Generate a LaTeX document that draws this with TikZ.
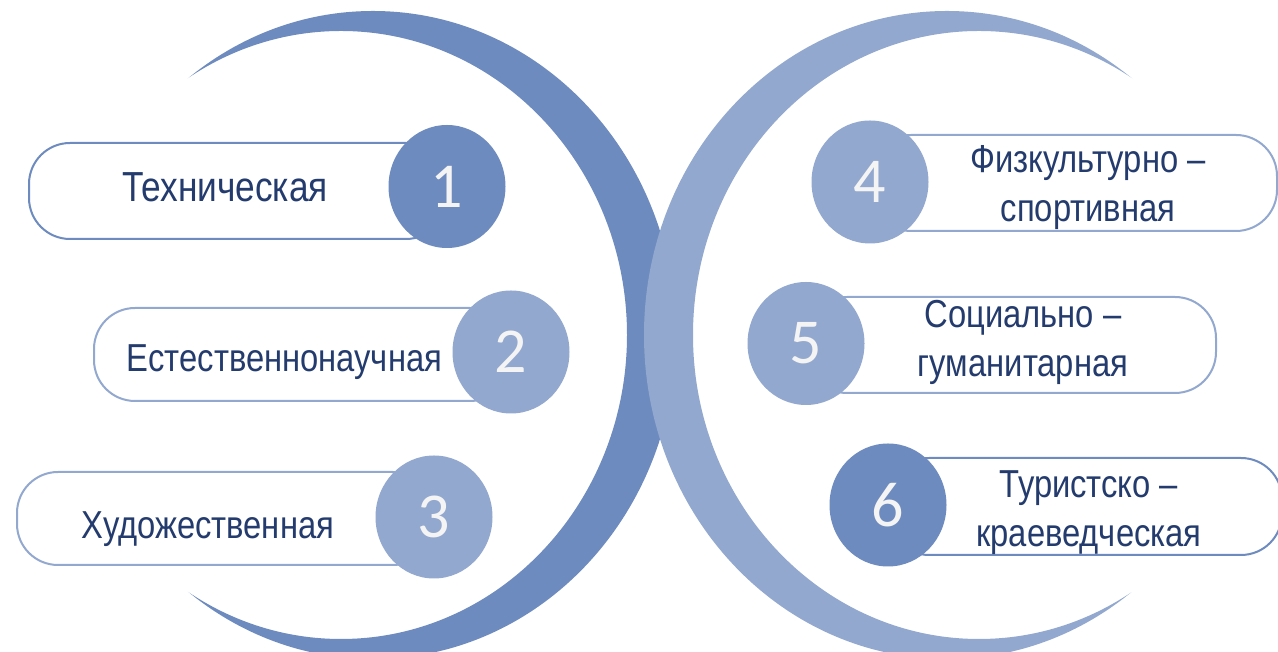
\documentclass[tikz,border=0pt]{standalone}
\usepackage{fontspec}
\setmainfont{Liberation Sans}[FakeStretch=0.84]
\newfontfamily\digitfont{Carlito}
\usetikzlibrary{shapes.geometric}

\definecolor{crescdark}{HTML}{6D8BBE}
\definecolor{cresclight}{HTML}{93A8CF}
\definecolor{labelblue}{HTML}{243B6E}
\definecolor{digitwhite}{HTML}{F4F4F4}

\tikzset{
  numdisc/.style={ellipse, minimum width=117pt, minimum height=123pt, inner sep=0pt,
    text=digitwhite, font=\digitfont\fontsize{64}{64}\selectfont},
  barbox/.style={line width=2pt, fill=white, rounded corners=41pt},
  bigtag/.style={text=labelblue, inner sep=0pt, anchor=base, font=\fontsize{42}{48}\selectfont},
  midtag/.style={text=labelblue, inner sep=0pt, anchor=base, font=\fontsize{39}{46}\selectfont},
  twotag/.style={text=labelblue, inner sep=0pt, anchor=base, align=center,
    font=\fontsize{39}{49}\selectfont}
}

\begin{document}
\begin{tikzpicture}[x=1pt, y=1pt]
    \useasboundingbox (0,0) rectangle (1278,652);

    % Crescents (outer disc minus inner disc)
    \begin{scope}[even odd rule]
        \clip (-20,-20) rectangle (1300,680)
            (341,317) ellipse [x radius=286pt, y radius=304pt];
        \fill[crescdark] (373,317) ellipse [x radius=303pt, y radius=324pt];
    \end{scope}
    \begin{scope}[even odd rule]
        \clip (-20,-20) rectangle (1300,680)
            (979,317) ellipse [x radius=286pt, y radius=304pt];
        \fill[cresclight] (947,317) ellipse [x radius=303pt, y radius=324pt];
    \end{scope}

    % Bars
    \draw[barbox, draw=crescdark] (29,413) rectangle (447,509);
    \draw[barbox, draw=cresclight] (94,251) rectangle (511,344);
    \draw[barbox, draw=cresclight] (17,87) rectangle (434,180);
    \draw[barbox, draw=cresclight] (870,421) rectangle (1277,517);
    \draw[barbox, draw=cresclight] (806,259) rectangle (1216,355);
    \draw[barbox, draw=crescdark] (888,97) rectangle (1282,194);

    % Numbers
    \foreach \n/\x/\y/\c in {1/447/465.5/crescdark, 2/511/300/cresclight, 3/434/135/cresclight,
                             4/870/470/cresclight, 5/806/308.5/cresclight, 6/888/147/crescdark}
        \node[numdisc, fill=\c] (n\n) at (\x,\y) {\n};

    % Labels
    \node[bigtag] (t1) at (225,450) {Техническая};
    \node[midtag] (t2) at (284.5,280) {Естественнонаучная};
    \node[midtag] (t3) at (208,113) {Художественная};
    \node[twotag] (t4) at (1088,430) {Физкультурно –\\спортивная};
    \node[twotag] (t5) at (1023,275) {Социально –\\гуманитарная};
    \node[twotag] (t6) at (1089,105) {Туристско –\\краеведческая};
\end{tikzpicture}
\end{document}
